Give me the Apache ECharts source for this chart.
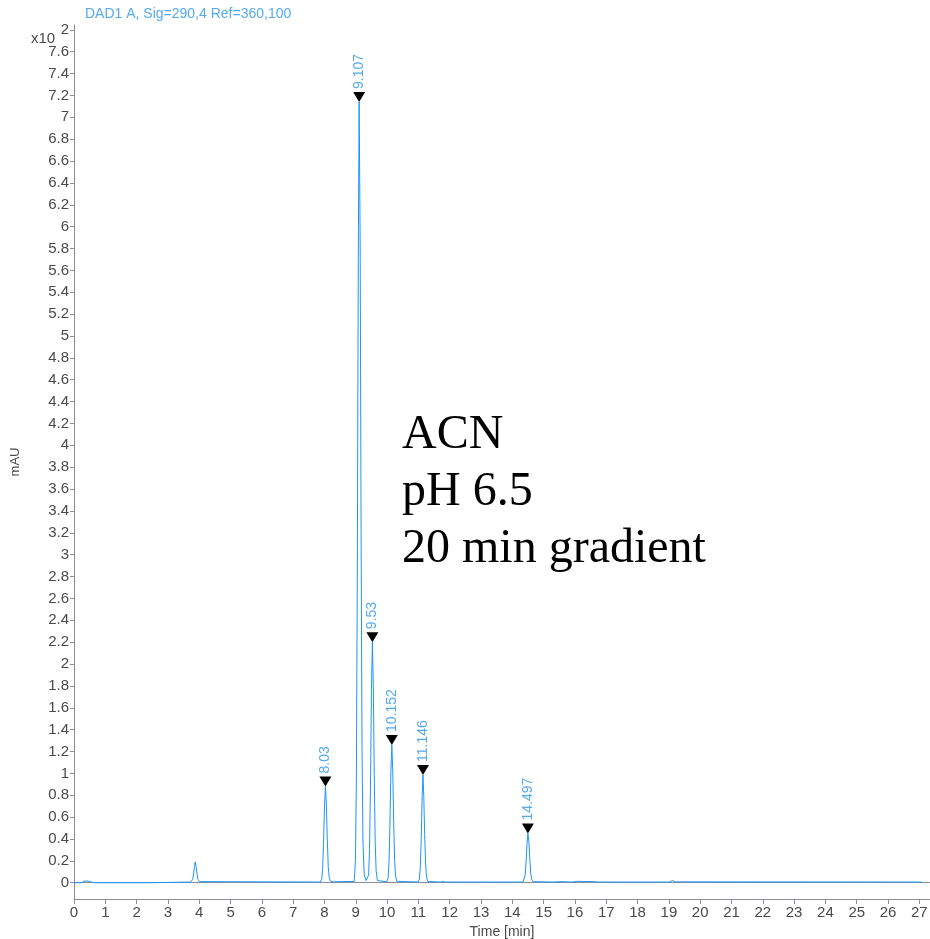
<!DOCTYPE html>
<html>
<head>
<meta charset="utf-8">
<script src="https://cdn.jsdelivr.net/npm/echarts@6/dist/echarts.min.js"></script>
<style>
  html, body { margin: 0; padding: 0; background: #fff; }
  #chart { width: 930px; height: 939px; }
</style>
</head>
<body>
<div id="chart"></div>
<script>
// trace pieces: [time (min), signal (x10^2 mAU)]
const baseline = [
  [0, 0], [0.25, 0], [0.32, 0.015], [0.45, 0.015], [0.58, 0.004], [0.65, 0],
  [2.45, 0], [2.5, 0.005], [3.72, 0.006]
]
const peak387 = [
  [3.76, 0.015], [3.79, 0.03], [3.82, 0.08], [3.85, 0.15], [3.87, 0.19],
  [3.9, 0.15], [3.93, 0.08], [3.96, 0.03], [4.0, 0.01], [4.05, 0.006], [7.87, 0.006]
]
const peak803 = [
  [7.91, 0.03], [7.94, 0.12], [7.97, 0.36], [8.0, 0.7], [8.03, 0.88],
  [8.06, 0.72], [8.09, 0.4], [8.12, 0.15], [8.15, 0.05], [8.19, 0.015],
  [8.28, 0.008], [8.95, 0.012]
]
const peak9107 = [
  [8.99, 0.21], [9.02, 1.0], [9.05, 2.93], [9.08, 5.71], [9.107, 7.14],
  [9.14, 5.85], [9.17, 3.21], [9.2, 1.21], [9.23, 0.36], [9.27, 0.07], [9.33, 0.02], [9.37, 0.012]
]
const peak953 = [
  [9.41, 0.07], [9.44, 0.31], [9.47, 0.9], [9.5, 1.76], [9.53, 2.2],
  [9.56, 1.8], [9.59, 0.99], [9.62, 0.37], [9.65, 0.11], [9.69, 0.02], [9.75, 0.008], [9.99, 0.008]
]
const peak10152 = [
  [10.03, 0.04], [10.06, 0.18], [10.09, 0.52], [10.12, 1.01], [10.152, 1.26],
  [10.18, 1.03], [10.21, 0.57], [10.24, 0.21], [10.27, 0.06], [10.31, 0.013], [10.37, 0.006], [10.99, 0.006]
]
const peak11146 = [
  [11.03, 0.03], [11.06, 0.14], [11.09, 0.4], [11.12, 0.79], [11.146, 0.985],
  [11.17, 0.81], [11.2, 0.44], [11.23, 0.17], [11.26, 0.05], [11.3, 0.012], [11.36, 0.006],
  [11.7, 0.006], [11.78, 0.012], [11.85, 0.006], [12.7, 0.006], [12.75, 0.01], [12.8, 0.006],
  [13.3, 0.006], [13.35, 0.01], [13.4, 0.006], [14.34, 0.006]
]
const peak14497 = [
  [14.38, 0.02], [14.41, 0.07], [14.44, 0.19], [14.47, 0.36], [14.497, 0.45],
  [14.53, 0.37], [14.56, 0.21], [14.59, 0.08], [14.62, 0.03], [14.66, 0.01], [14.72, 0.006]
]
const tail = [
  [15.3, 0.006], [15.35, 0.01], [15.55, 0.01], [15.6, 0.006], [15.9, 0.006], [15.95, 0.01],
  [16.1, 0.013], [16.3, 0.011], [16.6, 0.01], [16.65, 0.006], [16.75, 0.006], [16.8, 0.01],
  [16.85, 0.006], [17.4, 0.006], [17.45, 0.01], [17.5, 0.006], [19.0, 0.006], [19.05, 0.015],
  [19.12, 0.02], [19.2, 0.008], [19.25, 0.006], [27.08, 0.006]
]

// integrated peaks (apex markers)
const peakTimes = [8.03, 9.107, 9.53, 10.152, 11.146, 14.497]
const peakHeights = [0.88, 7.14, 2.2, 1.26, 0.985, 0.45]
const peakLabels = ['8.03', '9.107', '9.53', '10.152', '11.146', '14.497']

// axis ticks
const xTicks = []
for (let i = 0; i <= 27; i++) xTicks.push(i)
const yTicks = []
for (let i = 0; i <= 39; i++) yTicks.push(+(i * 0.2).toFixed(1))

const trace = [].concat(baseline, peak387, peak803, peak9107, peak953,
  peak10152, peak11146, peak14497, tail)

const axisGray = '#8c8c9a'
const labelGray = '#4a4a4a'
const traceBlue = '#1f95f5'
const textBlue = '#55aaee'

const chart = echarts.init(document.getElementById('chart'), null, { renderer: 'canvas' })

const option = {
  animation: false,
  backgroundColor: '#fff',
  textStyle: { fontFamily: 'Liberation Sans' },
  grid: { left: 74, right: 0, top: 25, bottom: 40, outerBoundsMode: 'none' },
  xAxis: [
    {
      type: 'value',
      min: 0,
      max: 27.34,
      name: 'Time [min]',
      nameLocation: 'middle',
      nameGap: 25,
      nameTextStyle: { fontSize: 14, color: labelGray },
      axisLine: { onZero: false, lineStyle: { color: axisGray } },
      axisTick: { customValues: xTicks, length: 5, lineStyle: { color: axisGray } },
      axisLabel: { customValues: xTicks, fontSize: 15, color: labelGray, margin: 6 },
      splitLine: { show: false }
    },
    {
      type: 'value',
      position: 'top',
      min: 0,
      max: 27.34,
      axisLine: { show: true, lineStyle: { color: axisGray } },
      axisTick: { show: false },
      axisLabel: { show: false },
      splitLine: { show: false }
    }
  ],
  yAxis: {
    type: 'value',
    min: -0.149,
    max: 7.844,
    name: 'mAU',
    nameLocation: 'middle',
    nameGap: 52,
    nameTextStyle: { fontSize: 13, color: labelGray },
    axisLine: { show: true, lineStyle: { color: axisGray } },
    axisTick: { customValues: yTicks, length: 4, lineStyle: { color: axisGray } },
    axisLabel: {
      customValues: yTicks,
      fontSize: 15,
      color: labelGray,
      margin: 5,
      formatter: v => (Math.abs(v - 7.8) < 1e-6 ? '2' : String(+v.toFixed(1)))
    },
    splitLine: { show: false }
  },
  graphic: [
    {
      type: 'text',
      left: 85,
      top: 7,
      style: { text: 'DAD1 A, Sig=290,4 Ref=360,100', fill: textBlue, fontSize: 14, fontFamily: 'Liberation Sans' }
    },
    {
      type: 'text',
      left: 31,
      top: 31,
      style: { text: 'x10', fill: labelGray, fontSize: 15, fontFamily: 'Liberation Sans' }
    },
    {
      type: 'text',
      left: 402,
      top: 407,
      style: {
        text: 'ACN\npH 6.5\n20 min gradient',
        fill: '#000',
        fontSize: 48,
        lineHeight: 57,
        fontFamily: 'Liberation Serif'
      }
    }
  ],
  series: [
    {
      type: 'line',
      xAxisIndex: 0,
      data: trace,
      showSymbol: false,
      lineStyle: { width: 1, color: traceBlue },
      itemStyle: { color: traceBlue },
      z: 2
    },
    {
      type: 'scatter',
      xAxisIndex: 0,
      data: peakTimes.map((t, i) => [t, peakHeights[i], peakLabels[i]]),
      symbol: 'triangle',
      symbolRotate: 180,
      symbolSize: [12, 10],
      symbolOffset: [0, -5],
      itemStyle: { color: '#000', opacity: 1 },
      label: {
        show: true,
        formatter: p => p.value[2],
        position: 'top',
        rotate: 90,
        align: 'left',
        verticalAlign: 'middle',
        distance: 3,
        fontSize: 14,
        color: textBlue
      },
      z: 3
    }
  ]
}

chart.setOption(option)
</script>
</body>
</html>
